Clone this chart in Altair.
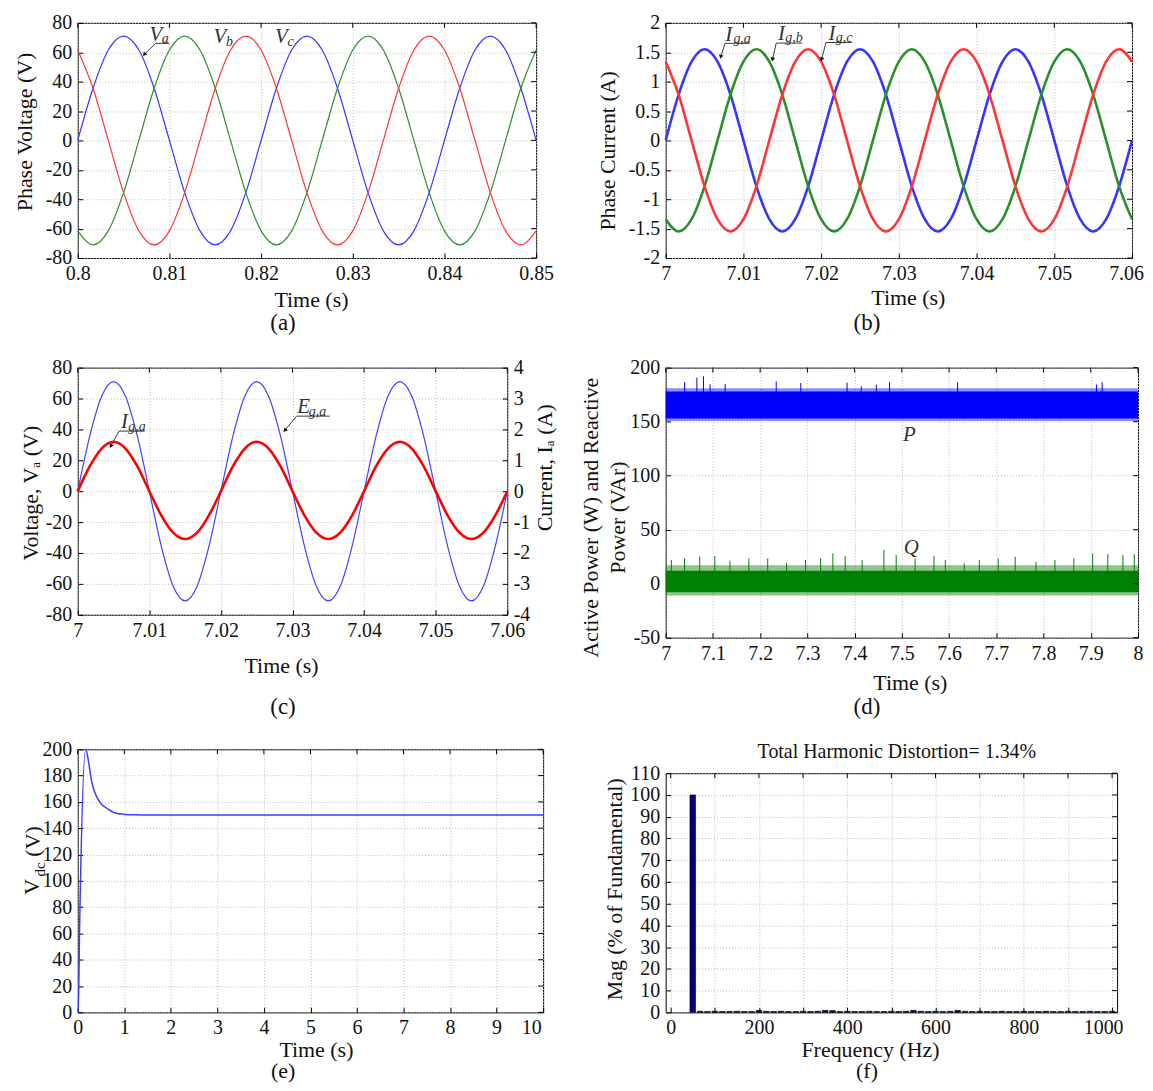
import altair as alt
import pandas as pd

FONT = "Liberation Serif"
INK = "#111111"
ANN = "#333333"
FMT = "replace(format(datum.value, '.4~r'), '\u2212', '-')"

CAPTIONS = ["(a)", "(b)", "(c)", "(d)", "(e)", "(f)"]

# ---------------- (a) phase voltages (sampled every 1/600 s) ----------------
A_T = [round(0.8 + i / 600, 6) for i in range(31)]
A_VA = [0, 35.5, 61.5, 71, 61.5, 35.5, 0, -35.5, -61.5, -71, -61.5, -35.5,
        0, 35.5, 61.5, 71, 61.5, 35.5, 0, -35.5, -61.5, -71, -61.5, -35.5,
        0, 35.5, 61.5, 71, 61.5, 35.5, 0]
A_VB = [-61.5, -71, -61.5, -35.5, 0, 35.5, 61.5, 71, 61.5, 35.5, 0, -35.5,
        -61.5, -71, -61.5, -35.5, 0, 35.5, 61.5, 71, 61.5, 35.5, 0, -35.5,
        -61.5, -71, -61.5, -35.5, 0, 35.5, 61.5]
A_VC = [61.5, 35.5, 0, -35.5, -61.5, -71, -61.5, -35.5, 0, 35.5, 61.5, 71,
        61.5, 35.5, 0, -35.5, -61.5, -71, -61.5, -35.5, 0, 35.5, 61.5, 71,
        61.5, 35.5, 0, -35.5, -61.5, -71, -61.5]
A_XT = [0.8, 0.81, 0.82, 0.83, 0.84, 0.85]
A_YT = [-80, -60, -40, -20, 0, 20, 40, 60, 80]
A_LBL_T = [0.80782, 0.81481, 0.82152]
A_LBL_V = [67.8, 66.0, 66.0]
A_LBL = ["V", "V", "V"]
A_SUB_T = [0.80916, 0.81618, 0.82287]
A_SUB_V = [66.5, 64.0, 64.0]
A_SUB = ["a", "b", "c"]
A_LEAD_T = [0.81, 0.80849, 0.8073]
A_LEAD_V = [66.0, 66.0, 58.8]
A_LEAD_G = ["a", "a", "a"]
A_HEAD_T = [0.8073]
A_HEAD_V = [58.8]
A_HEAD_A = [219]

# ---------------- (b) phase currents ----------------
B_T = [round(7 + i / 600, 6) for i in range(37)]
B_IA = [0, 0.78, 1.34, 1.55, 1.34, 0.78, 0, -0.78, -1.34, -1.55, -1.34, -0.78,
        0, 0.78, 1.34, 1.55, 1.34, 0.78, 0, -0.78, -1.34, -1.55, -1.34, -0.78,
        0, 0.78, 1.34, 1.55, 1.34, 0.78, 0, -0.78, -1.34, -1.55, -1.34, -0.78, 0]
B_IB = [-1.34, -1.55, -1.34, -0.78, 0, 0.78, 1.34, 1.55, 1.34, 0.78, 0, -0.78,
        -1.34, -1.55, -1.34, -0.78, 0, 0.78, 1.34, 1.55, 1.34, 0.78, 0, -0.78,
        -1.34, -1.55, -1.34, -0.78, 0, 0.78, 1.34, 1.55, 1.34, 0.78, 0, -0.78, -1.34]
B_IC = [1.34, 0.78, 0, -0.78, -1.34, -1.55, -1.34, -0.78, 0, 0.78, 1.34, 1.55,
        1.34, 0.78, 0, -0.78, -1.34, -1.55, -1.34, -0.78, 0, 0.78, 1.34, 1.55,
        1.34, 0.78, 0, -0.78, -1.34, -1.55, -1.34, -0.78, 0, 0.78, 1.34, 1.55, 1.34]
B_XT = [7, 7.01, 7.02, 7.03, 7.04, 7.05, 7.06]
B_YT = [-2, -1.5, -1, -0.5, 0, 0.5, 1, 1.5, 2]
B_LBL_T = [7.00765, 7.01444, 7.02096]
B_LBL_V = [1.694, 1.711, 1.711]
B_LBL = ["I", "I", "I"]
B_SUB_T = [7.00871, 7.01538, 7.02187]
B_SUB_V = [1.661, 1.677, 1.677]
B_SUB = ["g,a", "g,b", "g,c"]
B_LEAD_T = [7.01077, 7.00765, 7.00711, 7.01756, 7.01422, 7.01376, 7.02399, 7.02062, 7.02008]
B_LEAD_V = [1.652, 1.652, 1.432, 1.656, 1.656, 1.388, 1.666, 1.666, 1.388]
B_LEAD_G = ["a", "a", "a", "b", "b", "b", "c", "c", "c"]
B_HEAD_T = [7.00711, 7.01376, 7.02008]
B_HEAD_V = [1.432, 1.388, 1.388]
B_HEAD_A = [196, 193, 194]

# ---------------- (c) grid voltage and current ----------------
C_T = [round(7 + i / 600, 6) for i in range(37)]
C_E = [0, 35.5, 61.5, 71, 61.5, 35.5, 0, -35.5, -61.5, -71, -61.5, -35.5,
       0, 35.5, 61.5, 71, 61.5, 35.5, 0, -35.5, -61.5, -71, -61.5, -35.5,
       0, 35.5, 61.5, 71, 61.5, 35.5, 0, -35.5, -61.5, -71, -61.5, -35.5, 0]
C_I = [0, 0.8, 1.38, 1.6, 1.38, 0.8, 0, -0.78, -1.34, -1.55, -1.34, -0.78,
       0, 0.8, 1.38, 1.6, 1.38, 0.8, 0, -0.78, -1.34, -1.55, -1.34, -0.78,
       0, 0.8, 1.38, 1.6, 1.38, 0.8, 0, -0.78, -1.34, -1.55, -1.34, -0.78, 0]
C_XT = [7, 7.01, 7.02, 7.03, 7.04, 7.05, 7.06]
C_YT = [-80, -60, -40, -20, 0, 20, 40, 60, 80]
C_Y2T = [-4, -3, -2, -1, 0, 1, 2, 3, 4]
C_LBL_T = [7.00603, 7.03067]
C_LBL_V = [41.1, 50.8]
C_LBL = ["I", "E"]
C_SUB_T = [7.00707, 7.03228]
C_SUB_V = [39.2, 48.9]
C_SUB = ["g,a", "g,a"]
C_LEAD_T = [7.00932, 7.00577, 7.00465, 7.03522, 7.03057, 7.02899]
C_LEAD_V = [38.9, 38.9, 29.5, 48.6, 48.6, 39.7]
C_LEAD_G = ["i", "i", "i", "e", "e", "e"]
C_HEAD_T = [7.00465, 7.02899]
C_HEAD_V = [29.5, 39.7]
C_HEAD_A = [208, 218]

# ---------------- (d) active / reactive power ----------------
D_T = [7.0, 8.0]
P_CORE_LO = [153, 153]
P_CORE_HI = [178, 178]
P_FRINGE_LO = [150.5, 150.5]
P_FRINGE_HI = [181, 181]
Q_CORE_LO = [-8, -8]
Q_CORE_HI = [12, 12]
Q_FRINGE_LO = [-11, -11]
Q_FRINGE_HI = [17, 17]
P_SPK_T = [7.040, 7.066, 7.080, 7.094, 7.126, 7.234, 7.286, 7.384, 7.414, 7.446, 7.474, 7.618, 7.912, 7.924]
P_SPK_V = [186.7, 190.8, 192.0, 184.6, 185.0, 187.4, 185.8, 186.0, 182.7, 184.3, 186.7, 186.4, 184.3, 186.4]
Q_SPK_T = [7.012, 7.04, 7.072, 7.104, 7.136, 7.176, 7.216, 7.256, 7.296, 7.328, 7.354, 7.38, 7.416, 7.462,
           7.488, 7.528, 7.568, 7.592, 7.632, 7.664, 7.704, 7.74, 7.784, 7.824, 7.864, 7.904, 7.936, 7.968, 7.992]
Q_SPK_V = [21.9, 23.4, 25.0, 25.6, 21.3, 23.4, 23.4, 19.4, 21.9, 23.4, 28.0, 25.6, 21.9, 31.1,
           26.5, 23.4, 25.6, 21.9, 18.8, 21.9, 23.4, 25.0, 20.3, 21.9, 23.4, 28.0, 27.4, 26.5, 27.4]
D_XT = [7, 7.1, 7.2, 7.3, 7.4, 7.5, 7.6, 7.7, 7.8, 7.9, 8]
D_YT = [-50, 0, 50, 100, 150, 200]
D_LBL_T = [7.516, 7.52]
D_LBL_V = [137.4, 32.6]
D_LBL = ["P", "Q"]

# ---------------- (e) DC-link voltage ----------------
E_T = [0, 0.01, 0.04, 0.17, 0.23, 0.29, 0.37, 0.48, 0.65, 0.88, 1.2, 1.6, 10.0]
E_V = [0, 0, 65, 200, 191, 177, 167, 159.5, 154.6, 151, 150.2, 150, 150]
E_XT = [0, 1, 2, 3, 4, 5, 6, 7, 8, 9, 10]
E_YT = [0, 20, 40, 60, 80, 100, 120, 140, 160, 180, 200]

# ---------------- (f) harmonic spectrum ----------------
F_FREQ = [50, 66.7, 83.3, 100, 116.7, 133.3, 150, 166.7, 183.3, 200,
          216.7, 233.3, 250, 266.7, 283.3, 300, 316.7, 333.3, 350, 366.7,
          383.3, 400, 416.7, 433.3, 450, 466.7, 483.3, 500, 516.7, 533.3,
          550, 566.7, 583.3, 600, 616.7, 633.3, 650, 666.7, 683.3, 700,
          716.7, 733.3, 750, 766.7, 783.3, 800, 816.7, 833.3, 850, 866.7,
          883.3, 900, 916.7, 933.3, 950, 966.7, 983.3, 1000]
F_MAG = [100, 0.5, 0.4, 0.5, 0.4, 0.4, 0.5, 0.4, 0.4, 0.9,
         0.5, 0.4, 0.5, 0.4, 0.4, 0.5, 0.4, 0.5, 0.9, 0.8,
         0.4, 0.5, 0.4, 0.4, 0.5, 0.4, 0.4, 0.5, 0.4, 0.5,
         0.9, 0.5, 0.4, 0.5, 0.4, 0.5, 0.9, 0.5, 0.4, 0.5,
         0.4, 0.4, 0.5, 0.4, 0.4, 0.5, 0.4, 0.4, 0.5, 0.4,
         0.4, 0.5, 0.4, 0.4, 0.5, 0.4, 0.4, 0.5]
F_XT = [0, 100, 200, 300, 400, 500, 600, 700, 800, 900, 1000]
F_YT = [0, 10, 20, 30, 40, 50, 60, 70, 80, 90, 100, 110]
F_TITLE = "Total Harmonic Distortion= 1.34%"


# ---------------- helpers ----------------
def sc(d):
    return alt.Scale(domain=d, nice=False, zero=False)


def shift_last(test, px):
    # nudge the last tick label inward so it stays on the page
    return {"condition": {"test": test, "value": px}, "value": 0}


def ax(values, title=None, tx=None, ty=None, orient=None, grid=True,
       loff=None, expr=FMT, angle=None, lh=None, lpad=None):
    kw = dict(values=values, grid=grid, labelExpr=expr,
              tickSize=alt.ExprRef(expr="-5"), labelFlush=False, title=title)
    if loff is not None:
        kw["labelOffset"] = loff
    if lpad is not None:
        kw["labelPadding"] = lpad
    if title is not None:
        kw["titleX"] = tx
        kw["titleY"] = ty
    if orient is not None:
        kw["orient"] = orient
    if angle is not None:
        kw["titleAngle"] = angle
    if lh is not None:
        kw["titleLineHeight"] = lh
    return alt.Axis(**kw)


def edge_ticks(X, Y, xvals, yvals, w, right=True):
    # short inward ticks along the top (and right) edges of the box
    out = [alt.Chart(pd.DataFrame({"t": xvals})).mark_rule(color="#000000", strokeWidth=1).encode(
        x=X, y=alt.value(0), y2=alt.value(5))]
    if right:
        out.append(alt.Chart(pd.DataFrame({"v": yvals})).mark_rule(color="#000000", strokeWidth=1).encode(
            y=Y, x=alt.value(w - 5), x2=alt.value(w)))
    return out


def annotations(X, Y, mt, mv, mtxt, st, sv, stxt, lt, lv, lg, ht, hv, ha):
    return [
        alt.Chart(pd.DataFrame({"t": mt, "v": mv, "s": mtxt})).mark_text(
            font=FONT, fontSize=21, fontStyle="italic", align="left", baseline="alphabetic", color=ANN
        ).encode(x=X, y=Y, text="s:N"),
        alt.Chart(pd.DataFrame({"t": st, "v": sv, "s": stxt})).mark_text(
            font=FONT, fontSize=14, fontStyle="italic", align="left", baseline="alphabetic", color=ANN
        ).encode(x=X, y=Y, text="s:N"),
        alt.Chart(pd.DataFrame({"t": lt, "v": lv, "g": lg, "o": list(range(len(lt)))})).mark_line(
            color="#222222", strokeWidth=0.9).encode(x=X, y=Y, detail="g:N", order="o:Q"),
        alt.Chart(pd.DataFrame({"t": ht, "v": hv, "a": ha})).mark_point(
            shape="triangle", filled=True, size=22, color="#111111", opacity=1).encode(
            x=X, y=Y, angle=alt.Angle("a:Q", scale=None)),
    ]


def text_at(txt, x, y, size, angle=0):
    return alt.Chart(pd.DataFrame({"c": [txt]})).mark_text(
        font=FONT, fontSize=size, color=INK, align="center", baseline="middle", angle=angle
    ).encode(x=alt.value(x), y=alt.value(y), text="c:N")


def bbox(w, h, L, R, T, B):
    # invisible rectangle that fixes the cell's layout box
    return alt.Chart(pd.DataFrame({"z": [0]})).mark_rect(opacity=0).encode(
        x=alt.value(-L), x2=alt.value(w + R), y=alt.value(-T), y2=alt.value(h + B))


def boxed(layers, w, h, box):
    return alt.layer(*(layers + [bbox(w, h, *box)])).properties(width=w, height=h)


# ---------------- panel (a) ----------------
WA, HA = 460, 236
XA = alt.X("t:Q", scale=sc([0.8, 0.85]), axis=ax(A_XT, "Time (s)", 234, 41.5))
YA = alt.Y("v:Q", scale=sc([-80, 80]), axis=ax(A_YT, "Phase Voltage (V)", -53.6, 109))
df_a = pd.DataFrame({"t": A_T * 3, "v": A_VA + A_VB + A_VC,
                     "s": ["Va"] * len(A_T) + ["Vb"] * len(A_T) + ["Vc"] * len(A_T)})
a_lines = alt.Chart(df_a).mark_line(strokeWidth=1.2, interpolate="monotone").encode(
    x=XA, y=YA,
    color=alt.Color("s:N", scale=alt.Scale(domain=["Va", "Vb", "Vc"],
                                           range=["#3535ff", "#2a8f2a", "#ff3535"]), legend=None))
panel_a = boxed(
    [a_lines] + annotations(XA, YA, A_LBL_T, A_LBL_V, A_LBL, A_SUB_T, A_SUB_V, A_SUB,
                            A_LEAD_T, A_LEAD_V, A_LEAD_G, A_HEAD_T, A_HEAD_V, A_HEAD_A)
    + edge_ticks(XA, YA, A_XT, A_YT, WA) + [text_at(CAPTIONS[0], 206, 301.7, 23)],
    WA, HA, (69, 27, 12, 94))

# ---------------- panel (b) ----------------
WB, HB = 468, 236
XB = alt.X("t:Q", scale=sc([7, 7.06]),
           axis=ax(B_XT, "Time (s)", 243, 40, loff=shift_last("datum.value > 7.055", -6)))
YB = alt.Y("v:Q", scale=sc([-2, 2]), axis=ax(B_YT, "Phase Current (A)", -58.8, 128))
df_b = pd.DataFrame({"t": B_T * 3, "v": B_IA + B_IB + B_IC,
                     "s": ["Ia"] * len(B_T) + ["Ib"] * len(B_T) + ["Ic"] * len(B_T)})
b_lines = alt.Chart(df_b).mark_line(strokeWidth=2.6, interpolate="monotone").encode(
    x=XB, y=YB,
    color=alt.Color("s:N", scale=alt.Scale(domain=["Ia", "Ib", "Ic"],
                                           range=["#0000ff", "#008000", "#ff0000"]), legend=None))
panel_b = boxed(
    [b_lines] + annotations(XB, YB, B_LBL_T, B_LBL_V, B_LBL, B_SUB_T, B_SUB_V, B_SUB,
                            B_LEAD_T, B_LEAD_V, B_LEAD_G, B_HEAD_T, B_HEAD_V, B_HEAD_A)
    + edge_ticks(XB, YB, B_XT, B_YT, WB) + [text_at(CAPTIONS[1], 202, 301.7, 23)],
    WB, HB, (101, 12, 12, 94))

# ---------------- panel (c) ----------------
WC, HC = 431, 248
XC = alt.X("t:Q", scale=sc([7, 7.06]), axis=ax(C_XT, "Time (s)", 204, 51))
YC = alt.Y("v:Q", scale=sc([-80, 80]), axis=ax(C_YT, "Voltage, V\u2090 (V)", -47, 125.5))
c_e = alt.Chart(pd.DataFrame({"t": C_T, "v": C_E})).mark_line(
    color="#4040ff", strokeWidth=1.2, interpolate="monotone").encode(x=XC, y=YC)
c_i = alt.Chart(pd.DataFrame({"t": C_T, "i": C_I})).mark_line(
    color="#ff0000", strokeWidth=2.6, interpolate="monotone").encode(
    x=alt.X("t:Q", scale=sc([7, 7.06]), axis=None),
    y=alt.Y("i:Q", scale=sc([-4, 4]),
            axis=ax(C_Y2T, "Current, I\u2090 (A)", 37.3, 100, orient="right", grid=False, angle=270)))
left_c = alt.layer(
    c_e, *annotations(XC, YC, C_LBL_T, C_LBL_V, C_LBL, C_SUB_T, C_SUB_V, C_SUB,
                      C_LEAD_T, C_LEAD_V, C_LEAD_G, C_HEAD_T, C_HEAD_V, C_HEAD_A),
    *edge_ticks(XC, YC, C_XT, C_YT, WC, right=False),
    text_at(CAPTIONS[2], 206, 341, 23), bbox(WC, HC, 69, 56, 14, 119))
panel_c = alt.layer(left_c, c_i).resolve_scale(y="independent").resolve_axis(
    x="independent", y="independent").properties(width=WC, height=HC)

# ---------------- panel (d) ----------------
WD, HD = 474, 271
XD = alt.X("t:Q", scale=sc([7, 8]), axis=ax(D_XT, "Time (s)", 245, 45))
YD = alt.Y("v:Q", scale=sc([-50, 200]),
           axis=ax(D_YT, ["Active Power (W) and Reactive", "Power (VAr)"], -75.3, 150, lh=27))


def band(lo, hi, color, op):
    return alt.Chart(pd.DataFrame({"t": D_T, "v": lo, "v2": hi})).mark_area(
        color=color, opacity=op).encode(x=XD, y=YD, y2="v2:Q")


def spikes(ts, tops, base, color):
    df = pd.DataFrame({"t": ts, "v2": tops}).assign(v=base)
    return alt.Chart(df).mark_rule(color=color, strokeWidth=1).encode(x=XD, y=YD, y2="v2:Q")


d_lbl = alt.Chart(pd.DataFrame({"t": D_LBL_T, "v": D_LBL_V, "s": D_LBL})).mark_text(
    font=FONT, fontSize=21, fontStyle="italic", color=ANN, align="center", baseline="middle"
).encode(x=XD, y=YD, text="s:N")
panel_d = boxed(
    [band(P_FRINGE_LO, P_FRINGE_HI, "#0000ff", 0.45), band(P_CORE_LO, P_CORE_HI, "#0000ff", 1.0),
     spikes(P_SPK_T, P_SPK_V, 175.0, "#0000ff"),
     band(Q_FRINGE_LO, Q_FRINGE_HI, "#008000", 0.45), band(Q_CORE_LO, Q_CORE_HI, "#008000", 1.0),
     spikes(Q_SPK_T, Q_SPK_V, 10.0, "#008000"), d_lbl]
    + edge_ticks(XD, YD, D_XT, D_YT, WD) + [text_at(CAPTIONS[3], 202, 341, 23)],
    WD, HD, (101, 6, 14, 98))

# ---------------- panel (e) ----------------
WE, HE = 467, 264
XE = alt.X("t:Q", scale=sc([0, 10]),
           axis=ax(E_XT, "Time (s)", 239, 37, loff=shift_last("datum.value >= 10", -12), lpad=10))
YE = alt.Y("v:Q", scale=sc([0, 200]), axis=ax(E_YT))
e_line = alt.Chart(pd.DataFrame({"t": E_T, "v": E_V})).mark_line(
    color="#3c3cff", strokeWidth=1.5, interpolate="monotone").encode(x=XE, y=YE)
panel_e = boxed(
    [e_line] + edge_ticks(XE, YE, E_XT, E_YT, WE)
    + [text_at("V", -46, 138, 22, 270), text_at("dc", -38, 120.5, 15, 270), text_at("(V)", -45, 92.5, 22, 270),
       text_at(CAPTIONS[4], 206, 323, 22)],
    WE, HE, (69, 20, 14, 71))

# ---------------- panel (f) ----------------
WF, HF = 453, 240
XF = alt.X("t:Q", scale=sc([0, 1000]),
           axis=ax(F_XT, "Frequency (Hz)", 205, 37, loff=shift_last("datum.value >= 1000", -9),
                   expr="datum.value % 200 == 0 ? format(datum.value, '.4~r') : ''", lpad=10))
YF = alt.Y("v:Q", scale=sc([0, 110]), axis=ax(F_YT, "Mag (% of Fundamental)", -51.6, 116))
f_bars = alt.Chart(pd.DataFrame({"t": F_FREQ, "v": F_MAG})).mark_bar(
    orient="vertical", width=5.6, color="#000080", stroke="#000000", strokeWidth=0.6).encode(x=XF, y=YF)
panel_f = boxed(
    [f_bars] + edge_ticks(XF, YF, F_XT, F_YT, WF)
    + [text_at(F_TITLE, 232, -21, 20), text_at(CAPTIONS[5], 202, 299, 22)],
    WF, HF, (101, 12, 36, 71))

# ---------------- layout: two columns ----------------
col_left = alt.vconcat(panel_a, panel_c, panel_e, spacing=0)
col_right = alt.vconcat(panel_b, panel_d, panel_f, spacing=0)
root = alt.hconcat(col_left, col_right, spacing=0)

chart = root.properties(padding={"left": 0, "top": 0, "right": 0, "bottom": 0}).configure(
    background="white"
).configure_view(stroke="#000000", strokeWidth=1).configure_axis(
    labelFont=FONT, labelFontSize=20, labelColor=INK, labelPadding=11, labelOverlap=False,
    titleFont=FONT, titleFontSize=22, titleFontWeight="normal", titleColor=INK,
    titleBaseline="middle", titleAlign="center",
    domain=False, tickColor="#000000", tickWidth=1,
    gridColor="#bcbcbc", gridDash=[1, 2], gridWidth=1)

chart.save("out.html", embed_options={"renderer": "svg", "actions": False})
